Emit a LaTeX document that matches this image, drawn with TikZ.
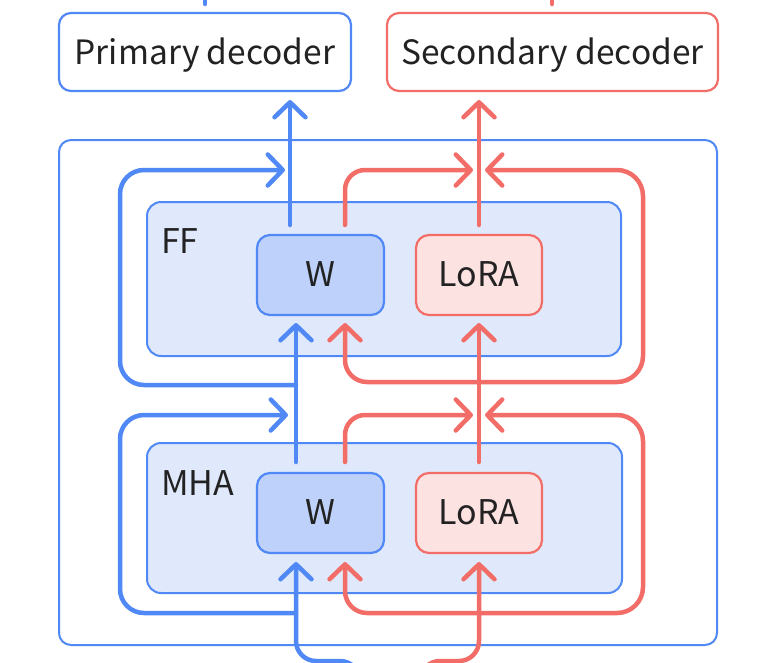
\documentclass[tikz,border=0pt]{standalone}
\usepackage{fontspec}
\setmainfont{Noto Sans CJK SC}
\usetikzlibrary{arrows.meta}
\definecolor{bl}{HTML}{5088F5}
\definecolor{rd}{HTML}{F26D67}
\definecolor{blockfill}{HTML}{E0E9FC}
\definecolor{wfill}{HTML}{BDD1FA}
\definecolor{lfill}{HTML}{FDE2E2}
\definecolor{txt}{HTML}{222222}
\tikzset{
  decbox/.style={draw, line width=2.2pt, rounded corners=12pt, fill=white, text=txt,
    font=\fontsize{33.5}{40}\selectfont, text height=24pt, text depth=0pt, inner sep=0pt},
  blockbox/.style={draw=bl, line width=2pt, rounded corners=14pt, fill=blockfill, inner sep=0pt},
  wbox/.style={draw=bl, fill=wfill, line width=2.2pt, rounded corners=13pt, text=txt,
    font=\fontsize{34}{40}\selectfont, text height=23pt, text depth=0pt, inner sep=0pt,
    minimum width=127pt, minimum height=80pt},
  lbox/.style={wbox, draw=rd, fill=lfill},
  blabel/.style={anchor=base west, text=txt, font=\fontsize{34}{40}\selectfont, inner sep=0pt},
  conn/.style={line width=4.5pt, line cap=round, line join=round},
  barrow/.style={conn, draw=bl, -{Straight Barb[length=15pt,width=31pt,round]}},
  rarrow/.style={conn, draw=rd, -{Straight Barb[length=15pt,width=31pt,round]}},
  bline/.style={conn, draw=bl},
  rline/.style={conn, draw=rd},
}
\begin{document}
\begin{tikzpicture}[x=1pt,y=-1pt]
\useasboundingbox (0,0) rectangle (778,662);
\fill[white] (0,0) rectangle (778,662);
\clip (0,0) rectangle (778,662);

% decoders
\node[decbox, draw=bl, minimum width=292pt, minimum height=78pt] (prim) at (205,52) {Primary decoder};
\node[decbox, draw=rd, minimum width=331pt, minimum height=78pt] (sec) at (552.5,52) {Secondary decoder};

% outer block
\node[draw=bl, line width=2pt, rounded corners=12pt, minimum width=658pt, minimum height=505pt, inner sep=0pt] (outer) at (388,392.5) {};

% inner blocks
\node[blockbox, minimum width=474pt, minimum height=154pt] (ff) at (384,279) {};
\node[blockbox, minimum width=475pt, minimum height=150pt] (mha) at (384.5,518) {};
\node[blabel] (fflab) at (161,253) {FF};
\node[blabel] (mhalab) at (161,495) {MHA};

% W and LoRA
\node[wbox] (ffw) at (320.5,275) {W};
\node[lbox, minimum width=126pt] (ffl) at (479,275) {LoRA};
\node[wbox] (mhaw) at (320.5,513) {W};
\node[lbox, minimum width=126pt] (mhal) at (479,513) {LoRA};

% coordinates
\coordinate (ptop) at (205,4);
\coordinate (ptopend) at (205,-20);
\coordinate (stop) at (552,4);
\coordinate (stopend) at (552,-20);
\coordinate (ffwout) at (290,225);
\coordinate (ffwtip) at (290,100);
\coordinate (fflout) at (479,225);
\coordinate (ffltip) at (479,100);
\coordinate (bj1) at (296,385);
\coordinate (bj2) at (296,613);
\coordinate (rj1) at (479,382);
\coordinate (rj2) at (479,613);
\coordinate (binstart) at (360,700);
\coordinate (rinstart) at (420,700);

% top stubs
\draw[bline] (ptop) -- (ptopend);
\draw[rline] (stop) -- (stopend);

% FF outputs
\draw[barrow] (ffwout) -- (ffwtip);
\draw[rarrow] (fflout) -- (ffltip);

% MHA W -> FF W (blue)
\draw[barrow] (296,462) -- (296,323);
% MHA LoRA -> FF LoRA (red)
\draw[rarrow] (479,462) -- (479,323);

% FF blue residual
\draw[barrow, rounded corners=24pt] (bj1) -| (120,170) -- (285,170);
% MHA blue residual
\draw[barrow, rounded corners=24pt] (bj2) -| (120,415) -- (288,415);

% FF red: W output
\draw[rarrow, rounded corners=20pt] (345,225) |- (473,170);
% FF red residual
\draw[rarrow, rounded corners=26pt] (rj1) -| (643,170) -- (485,170);
% FF red into W
\draw[rarrow, rounded corners=22pt] (rj1) -| (345,323);

% MHA red: W output
\draw[rarrow, rounded corners=20pt] (345,462) |- (473,415);
% MHA red residual
\draw[rarrow, rounded corners=26pt] (rj2) -| (643,415) -- (485,415);
% MHA red into W
\draw[rarrow, rounded corners=22pt] (rj2) -| (345,562);

% inputs from below
\draw[barrow, rounded corners=20pt] (binstart) -- (360,661) -- (296,661) -- (296,562);
\draw[rarrow, rounded corners=20pt] (rinstart) -- (420,661) -- (479,661) -- (479,562);
\end{tikzpicture}
\end{document}
